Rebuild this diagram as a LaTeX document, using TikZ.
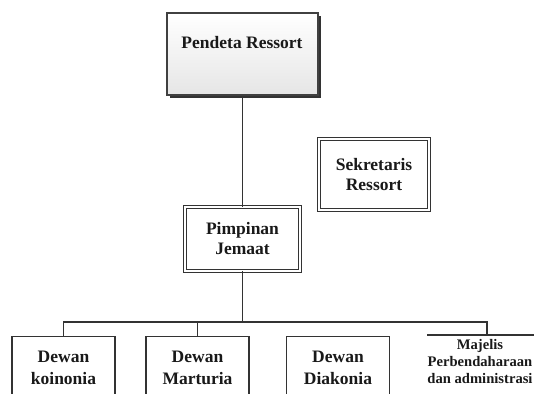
\documentclass[tikz,border=0pt]{standalone}
\usepackage{fontspec}
\setmainfont{Liberation Serif}
\usetikzlibrary{shadows}
\tikzset{
  lbl/.style={font=\bfseries\fontsize{17.5}{20}\selectfont, align=center, text=black!90},
  topbox/.style={draw=black!75, line width=1.2pt, top color=white, bottom color=black!10,
    minimum width=151pt, minimum height=82pt, inner sep=0pt,
    drop shadow={shadow xshift=3pt, shadow yshift=-3pt, fill=black!80, opacity=1}},
  dblbox/.style={draw=black!80, double=white, double distance=2pt, line width=0.9pt, fill=white,
    inner sep=0pt, font=\bfseries\fontsize{17.5}{20}\selectfont, align=center, text=black!90},
  unitbox/.style={draw=black!80, line width=1.1pt, fill=white, anchor=north,
    minimum width=103pt, minimum height=62pt, inner sep=0pt,
    font=\bfseries\fontsize{17.5}{22}\selectfont, align=center, text=black!90},
  conn/.style={draw=black!80, line width=1.1pt}
}
\begin{document}
\begin{tikzpicture}[x=1pt,y=-1pt]
\useasboundingbox (0,0) rectangle (534,393);
\clip (0,0) rectangle (534,393);
% top box
\node[topbox] (pr) at (242.5,54) {};
\node[lbl] (prt) at (242,43) {Pendeta Ressort};
% secretary
\node[dblbox, minimum width=110pt, minimum height=71pt] (sr) at (374,174.5) {Sekretaris\\Ressort};
% pimpinan
\node[dblbox, minimum width=115pt, minimum height=64pt] (pj) at (242.5,239) {Pimpinan\\Jemaat};
% bottom units
\node[unitbox] (d1) at (63.5,336) {Dewan\\koinonia};
\node[unitbox] (d2) at (197.5,336) {Dewan\\Marturia};
\node[unitbox] (d3) at (338,336) {Dewan\\Diakonia};
\node[anchor=north, minimum width=106pt, minimum height=52pt, inner sep=0pt,
      font=\bfseries\fontsize{14.6}{17}\selectfont, align=center, text=black!90] (d4) at (480,335)
      {Majelis\\Perbendaharaan\\dan administrasi};
\coordinate (d4top) at (487,335);
\coordinate (d4end) at (540,335);
\draw[conn] (427,335) -- (d4end);
% connectors
\coordinate (bus) at (242.5,322);
\draw[conn] (pr.south) -- (pj.north);
\draw[conn] (pj.south) -- (bus);
\draw[conn] (d1.north) -- (d1.north |- bus) -| (d4top);
\draw[conn] (d2.north) -- (d2.north |- bus);
\end{tikzpicture}
\end{document}
